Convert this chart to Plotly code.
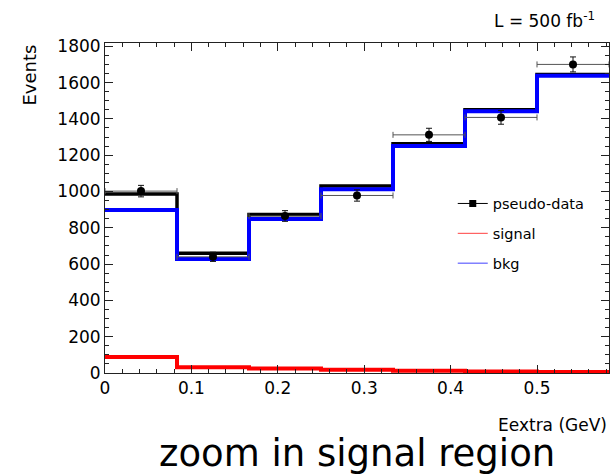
import numpy as np
import plotly.graph_objects as go

# Binning in Eextra (GeV): 7 bins of width 1/12
bin_edges = [0.0, 1 / 12, 2 / 12, 3 / 12, 4 / 12, 5 / 12, 6 / 12, 7 / 12]

# Expected yields per bin
bkg = [898, 628, 848, 1012, 1250, 1442, 1638]
signal = [88, 32, 25, 18, 13, 8, 6]

# Pseudo-data counts per bin
pseudo_data = [1002, 640, 865, 978, 1312, 1408, 1700]

y_tick_vals = [0, 200, 400, 600, 800, 1000, 1200, 1400, 1600, 1800]
x_tick_vals = [0, 0.1, 0.2, 0.3, 0.4, 0.5]
x_tick_text = ["0", "0.1", "0.2", "0.3", "0.4", "0.5"]

edges = np.array(bin_edges)
centers = 0.5 * (edges[:-1] + edges[1:])
half_widths = 0.5 * (edges[1:] - edges[:-1])
total = [b + s for b, s in zip(bkg, signal)]


def step_y(values):
    # repeat last value so the 'hv' step reaches the upper edge
    return list(values) + [values[-1]]


FONT = "DejaVu Sans"
AX = "#222222"

fig = go.Figure()

# signal + background
fig.add_trace(go.Scatter(
    x=bin_edges, y=step_y(total), mode="lines", line_shape="hv",
    line=dict(color="#000000", width=3.5), showlegend=False, hoverinfo="skip"))

# background
fig.add_trace(go.Scatter(
    x=bin_edges, y=step_y(bkg), mode="lines", line_shape="hv",
    line=dict(color="#0000ff", width=4), showlegend=False, hoverinfo="skip"))

# signal
fig.add_trace(go.Scatter(
    x=bin_edges, y=step_y(signal), mode="lines", line_shape="hv",
    line=dict(color="#ff0000", width=4), showlegend=False, hoverinfo="skip"))

# pseudo-data with statistical errors
fig.add_trace(go.Scatter(
    x=centers, y=pseudo_data, mode="markers",
    marker=dict(color="#000000", size=8, symbol="circle"),
    error_y=dict(type="data", array=np.sqrt(pseudo_data), color="#111111",
                 thickness=1, width=3),
    error_x=dict(type="data", array=half_widths, color="#555555",
                 thickness=1, width=3),
    showlegend=False))

# legend entries
fig.add_trace(go.Scatter(
    x=[None], y=[None], mode="lines+markers", name="pseudo-data",
    line=dict(color="#000000", width=1),
    marker=dict(color="#000000", size=7, symbol="square"),
    legendgroup="a"))
fig.add_trace(go.Scatter(
    x=[None], y=[None], mode="lines", name="signal",
    line=dict(color="#ff4040", width=1), legendgroup="b"))
fig.add_trace(go.Scatter(
    x=[None], y=[None], mode="lines", name="bkg",
    line=dict(color="#4040ff", width=1), legendgroup="c"))

axis_common = dict(
    showgrid=False, zeroline=False, showline=True, linecolor=AX, linewidth=1,
    mirror="allticks", ticks="inside", tickcolor=AX, tickwidth=1,
    tickfont=dict(family=FONT, size=17, color="#000000"),
)

fig.update_xaxes(
    range=[bin_edges[0], bin_edges[-1]], tickvals=x_tick_vals,
    ticktext=x_tick_text, ticklen=8,
    minor=dict(dtick=0.02, ticklen=4, ticks="inside", tickcolor=AX, tickwidth=1),
    **axis_common)
fig.update_yaxes(
    range=[0, 1818], tickvals=y_tick_vals, ticklen=8,
    minor=dict(dtick=50, ticklen=4, ticks="inside", tickcolor=AX, tickwidth=1),
    **axis_common)

fig.update_layout(
    width=611, height=475,
    margin=dict(l=105, r=2, t=43, b=102, autoexpand=False),
    plot_bgcolor="white", paper_bgcolor="white",
    font=dict(family=FONT, color="#000000"),
    legend=dict(
        x=0.69, y=0.562, xanchor="left", yanchor="top",
        font=dict(family=FONT, size=14.5, color="#000000"),
        bgcolor="rgba(0,0,0,0)", itemwidth=30, tracegroupgap=8,
        traceorder="grouped"),
    annotations=[
        dict(text="Events", xref="paper", yref="paper", x=0, y=1,
             xshift=-76, xanchor="center", yanchor="top", textangle=-90,
             showarrow=False, font=dict(family=FONT, size=18)),
        dict(text="Eextra (GeV)", xref="paper", yref="paper", x=1, y=0,
             yshift=-52, xanchor="right", yanchor="middle",
             showarrow=False, font=dict(family=FONT, size=17)),
        dict(text="L = 500 fb<sup>-1</sup>", xref="paper", yref="paper",
             x=1, y=1, xshift=-12, yshift=23, xanchor="right",
             yanchor="middle", showarrow=False,
             font=dict(family=FONT, size=17)),
        dict(text="zoom in signal region", xref="paper", yref="paper",
             x=0.5, y=0, yshift=-80, xanchor="center", yanchor="middle",
             showarrow=False, font=dict(family=FONT, size=37)),
    ],
)

fig.write_html("out.html")
